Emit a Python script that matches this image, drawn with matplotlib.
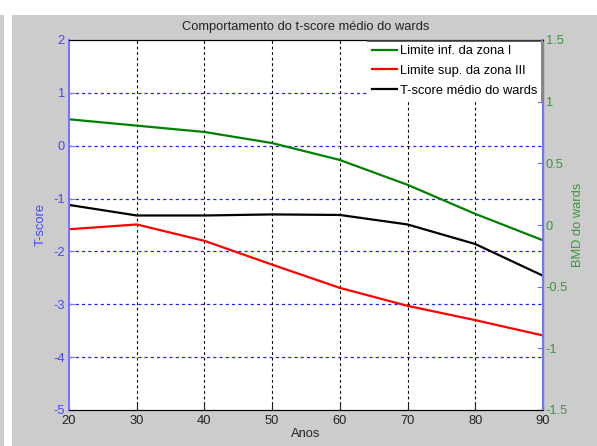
import numpy as np
import matplotlib.pyplot as plt
from matplotlib.patches import Rectangle
from matplotlib.lines import Line2D

# dades llegides del grafic original
anos = [20, 30, 40, 50, 60, 70, 80, 90]
lim_inf_zona1 = [0.50, 0.38, 0.26, 0.05, -0.27, -0.74, -1.29, -1.79]
lim_sup_zona3 = [-1.58, -1.49, -1.80, -2.25, -2.69, -3.03, -3.30, -3.59]
tscore_medio = [-1.12, -1.32, -1.32, -1.30, -1.31, -1.49, -1.86, -2.46]

left_ticks = [-5, -4, -3, -2, -1, 0, 1, 2]
right_ticks = [-1.5, -1, -0.5, 0, 0.5, 1, 1.5]
right_labels = ['-1.5', '-1', '-0.5', '0', '0.5', '1', '1.5']

plt.rcParams['font.family'] = ['Liberation Sans', 'DejaVu Sans']
plt.rcParams['axes.unicode_minus'] = False

FS = 9.3
BG = '#cccccc'
BLUE = '#4646ff'
SPINE_BLUE = '#7474ff'
GREEN = '#3c963c'

fig = plt.figure(figsize=(5.97, 4.46), dpi=100, facecolor='white')
W, H = 597, 446
# fons gris (estil figura MATLAB)
fig.patches.append(Rectangle((12 / W, 0), 1, (H - 15) / H, transform=fig.transFigure,
                             facecolor=BG, edgecolor='none', zorder=-10))
fig.patches.append(Rectangle((0, 0), 4 / W, (H - 15) / H, transform=fig.transFigure,
                             facecolor=BG, edgecolor='none', zorder=-10))

ax = fig.add_axes([69 / W, 1 - 410 / H, (543 - 69) / W, (410 - 40) / H])
ax.set_facecolor('white')

ax.plot(anos, lim_inf_zona1, color='#008000', lw=1.6, label='Limite inf. da zona I')
ax.plot(anos, lim_sup_zona3, color='#ff0000', lw=1.6, label='Limite sup. da zona III')
ax.plot(anos, tscore_medio, color='black', lw=1.6, label='T-score médio do wards')

ax.set_xlim(20, 90)
ax.set_ylim(-5, 2)
ax.set_xticks(anos)
ax.set_yticks(left_ticks)

# grelles
for yv in left_ticks[1:-1]:
    ax.axhline(yv, color='#2020ff', lw=0.9, ls=(0, (2.5, 2.5)), zorder=0.5)
for xv in anos[1:-1]:
    ax.axvline(xv, color='black', lw=0.8, ls=(0, (2.5, 2.5)), zorder=0.5)

ax.tick_params(axis='y', colors=BLUE, direction='in', labelsize=FS, length=4, pad=3)
ax.tick_params(axis='x', colors='#222222', direction='in', labelsize=FS, length=4)
ax.tick_params(axis='y', labelcolor=BLUE, color=SPINE_BLUE)
ax.spines['left'].set_color(SPINE_BLUE)
ax.spines['left'].set_linewidth(1.5)
ax.spines['bottom'].set_color('#333333')
ax.spines['top'].set_color('#333333')

ax.set_title('Comportamento do t-score médio do wards', fontsize=FS, color='#222222', pad=7)
ax.set_xlabel('Anos', fontsize=FS, color='#222222', labelpad=1)
ax.set_ylabel('T-score', fontsize=FS, color=BLUE, labelpad=5)

ax2 = ax.twinx()
ax2.set_ylim(-1.5, 1.5)
ax2.set_yticks(right_ticks)
ax2.set_yticklabels(right_labels)
ax2.tick_params(axis='y', direction='in', labelsize=FS, labelcolor=GREEN, color=SPINE_BLUE,
                length=4, pad=2)
ax2.spines['right'].set_color(SPINE_BLUE)
ax2.spines['right'].set_linewidth(1.5)
ax2.spines['left'].set_visible(False)
ax2.set_ylabel('BMD do wards', fontsize=FS, color=GREEN, labelpad=3)

leg = ax2.legend(*ax.get_legend_handles_labels(), loc='upper right', fontsize=FS,
                 frameon=True, fancybox=False, framealpha=1, edgecolor='none',
                 borderaxespad=0.05, handlelength=1.9, handletextpad=0.3,
                 labelspacing=0.6, borderpad=0.35)

# vora de la llegenda només a dalt i a la dreta, com a l'original
fig.canvas.draw()
bb = leg.get_window_extent().transformed(fig.transFigure.inverted())
fig.add_artist(Line2D([bb.x0, bb.x1], [bb.y1, bb.y1], color='#444444', lw=1.2,
                      transform=fig.transFigure, zorder=10))
fig.add_artist(Line2D([bb.x1, bb.x1], [bb.y0, bb.y1], color='#888888', lw=1.5,
                      transform=fig.transFigure, zorder=10))

fig.savefig('out.png', dpi=100, facecolor=fig.get_facecolor())
